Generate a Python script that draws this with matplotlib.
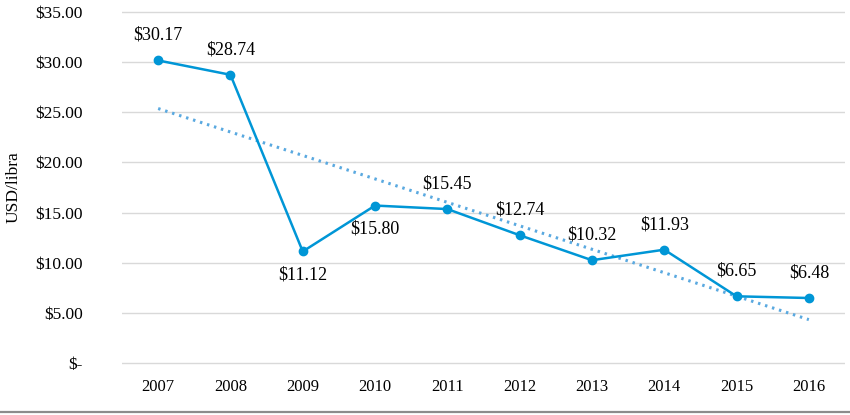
import matplotlib
matplotlib.use("Agg")
import matplotlib.pyplot as plt
import numpy as np
from matplotlib.lines import Line2D

years = ["2007", "2008", "2009", "2010", "2011", "2012", "2013", "2014", "2015", "2016"]
prices = [30.17, 28.74, 11.12, 15.70, 15.35, 12.74, 10.25, 11.30, 6.65, 6.48]
price_labels = ["$30.17", "$28.74", "$11.12", "$15.80", "$15.45", "$12.74", "$10.32", "$11.93", "$6.65", "$6.48"]
label_below = [False, False, True, True, False, False, False, False, False, False]
y_ticks = [0, 5, 10, 15, 20, 25, 30, 35]
y_tick_labels = ["$-", "$5.00", "$10.00", "$15.00", "$20.00", "$25.00", "$30.00", "$35.00"]

plt.rcParams["font.family"] = ["Liberation Serif", "DejaVu Serif"]

line_color = "#0096d6"
trend_color = "#5aa9e0"

fig = plt.figure(figsize=(8.5, 4.15), dpi=100)
ax = fig.add_axes([122 / 850, 50 / 415, 723 / 850, 355 / 415])

x = np.arange(len(years))
ax.plot(x, prices, color=line_color, lw=1.8, marker="o", ms=6, zorder=3)

slope, intercept = np.polyfit(x, prices, 1)
ax.plot(x, slope * x + intercept, color=trend_color, lw=2.2, ls=(0, (0.8, 1.6)), zorder=2)

for i, (xv, yv) in enumerate(zip(x, prices)):
    if label_below[i]:
        ax.annotate(price_labels[i], (xv, yv), xytext=(0, -11), textcoords="offset points",
                    ha="center", va="top", fontsize=13)
    else:
        ax.annotate(price_labels[i], (xv, yv), xytext=(0, 12), textcoords="offset points",
                    ha="center", va="bottom", fontsize=13)

ax.set_xlim(-0.5, len(years) - 0.5)
ax.set_ylim(-0.2, 35.2)
ax.set_xticks(x)
ax.set_xticklabels(years, fontsize=12)
ax.set_yticks(y_ticks)
ax.set_yticklabels(y_tick_labels, fontsize=12.5)
ax.tick_params(length=0)
ax.tick_params(axis="x", pad=10)
ax.tick_params(axis="y", pad=28)
ax.grid(axis="y", color="#d9d9d9", lw=1)
ax.set_axisbelow(True)
for side in ["top", "right", "left", "bottom"]:
    ax.spines[side].set_visible(False)

ax.set_ylabel("USD/libra", fontsize=12.5, labelpad=10)

fig.add_artist(Line2D([0, 1], [3 / 415, 3 / 415], color="#8c8c8c", lw=1.6, transform=fig.transFigure))

fig.savefig("out.png", dpi=100)
